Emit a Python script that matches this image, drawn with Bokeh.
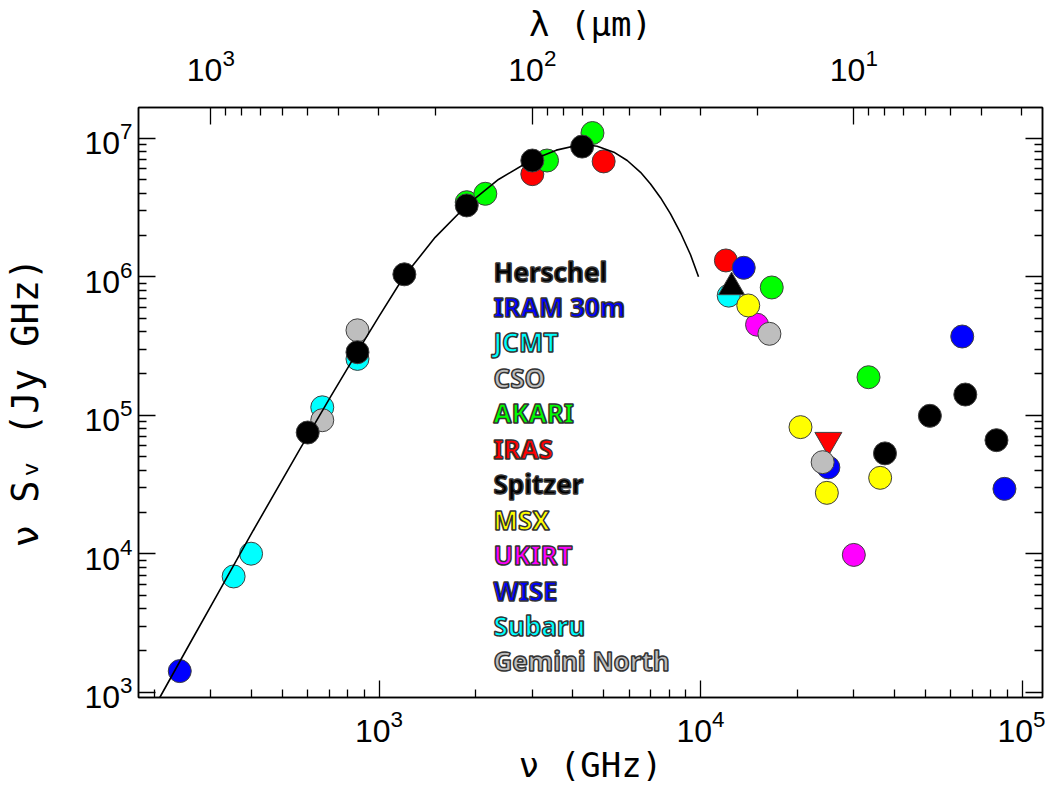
from bokeh.plotting import figure
from bokeh.models import (Range1d, LogAxis, FixedTicker, LogTickFormatter,
                          CustomJSTickFormatter, Label, LogScale)
from bokeh.embed import file_html
from bokeh.resources import INLINE

# ---------------- data ----------------
# model curve nu*S_nu (GHz, Jy GHz)
curve_nu = [208.0, 261.1, 316.2, 406.2, 565.7, 707.9, 855.3, 1000, 1194,
            1495, 1872, 2353, 2960, 3561, 4285, 4772, 5375, 5916, 6508,
            6991, 7509, 8066, 8665, 9309, 9858]
curve_flux = [915.6, 2362, 5212, 1.471e4, 5.627e4, 1.366e5, 2.85e5, 5.176e5,
              9.984e5, 1.923e6, 3.267e6, 5.038e6, 6.902e6, 8.20e6, 9.036e6,
              8.75e6, 7.925e6, 6.901e6, 5.675e6, 4.677e6, 3.72e6, 2.844e6,
              2.076e6, 1.441e6, 1.0e6]

jcmt_nu = [353, 400, 666, 857]
jcmt_flux = [6.85e3, 1.0e4, 1.14e5, 2.55e5]
subaru_nu = [12236]
subaru_flux = [7.3e5]
iram_nu = [240]
iram_flux = [1.42e3]
iras_nu = [2998, 4997, 11992]
iras_flux = [5.5e6, 6.8e6, 1.31e6]
iras_lim_nu = [24983]
iras_lim_flux = [6.6e4]
akari_nu = [1874, 2141, 3331, 4612, 16655, 33310]
akari_flux = [3.45e6, 3.97e6, 6.9e6, 1.09e7, 8.36e5, 1.88e5]
cso_nu = [666, 857]
cso_flux = [9.2e4, 4.1e5]
ukirt_nu = [14990, 29979]
ukirt_flux = [4.5e5, 9.8e3]
msx_nu = [14075, 20463, 24715, 36207]
msx_flux = [6.2e5, 8.2e4, 2.75e4, 3.53e4]
wise_nu = [13627, 24983, 65172, 88174]
wise_flux = [1.16e6, 4.2e4, 3.7e5, 2.94e4]
gemini_nu = [16380, 23983]
gemini_flux = [3.87e5, 4.58e4]
spitzer_nu = [37474, 51688, 66621, 83275]
spitzer_flux = [5.3e4, 9.9e4, 1.41e5, 6.6e4]
spitzer_lim_nu = [12491]
spitzer_lim_flux = [8.4e5]
herschel_nu = [600, 857, 1199, 1874, 2998, 4283]
herschel_flux = [7.5e4, 2.85e5, 1.04e6, 3.27e6, 6.9e6, 8.7e6]

legend_names = ["Herschel", "IRAM 30m", "JCMT", "CSO", "AKARI", "IRAS", "Spitzer",
                "MSX", "UKIRT", "WISE", "Subaru", "Gemini North"]
legend_colors = ["#000000", "#0000FF", "#00FFFF", "#BEBEBE", "#00FF00", "#FF0000",
                 "#000000", "#FFFF00", "#FF00FF", "#0000FF", "#00FFFF", "#BEBEBE"]

x_major = [1e3, 1e4, 1e5]
y_major = [1e3, 1e4, 1e5, 1e6, 1e7]
lam_major = [10, 100, 1000]

# ---------------- figure ----------------
C_UM_GHZ = 299792.458
XMIN, XMAX = 178.6, 115800.0
YMIN, YMAX = 915.6, 1.666e7

p = figure(width=1045, height=795, x_axis_type="log", y_axis_type="log",
           x_range=Range1d(XMIN, XMAX), y_range=Range1d(YMIN, YMAX),
           output_backend="svg", toolbar_location=None,
           min_border_left=138, min_border_right=3, min_border_top=107,
           min_border_bottom=98)
p.grid.visible = False
p.outline_line_color = "black"
p.outline_line_width = 1.5
p.background_fill_color = "white"
p.border_fill_color = "white"
p.extra_x_ranges = {"lam": Range1d(C_UM_GHZ / XMIN, C_UM_GHZ / XMAX)}
p.extra_x_scales = {"lam": LogScale()}


def minors(lo, hi):
    return [m * 10.0 ** e for e in range(lo, hi) for m in range(2, 10)]


TICK_FONT = "Liberation Sans"
TITLE_FONT = "DejaVu Sans Mono"


def style(ax, show_labels=True):
    ax.major_tick_in = 17
    ax.major_tick_out = 0
    ax.minor_tick_in = 8
    ax.minor_tick_out = 0
    ax.axis_line_width = 1.5
    ax.axis_line_color = "black"
    ax.major_tick_line_color = "black"
    ax.minor_tick_line_color = "black"
    ax.major_tick_line_width = 1.3
    ax.minor_tick_line_width = 1.3
    ax.major_label_text_font = TICK_FONT
    ax.major_label_text_color = "black"
    ax.axis_label_text_font = TITLE_FONT
    ax.axis_label_text_font_style = "normal"
    ax.axis_label_text_color = "black"
    ax.axis_label_text_font_size = "34px"
    if show_labels:
        ax.major_label_text_font_size = "32px"
        ax.formatter = LogTickFormatter()
    else:
        ax.major_label_text_font_size = "0px"
        ax.major_label_standoff = 0
        ax.formatter = CustomJSTickFormatter(code="return ''")


bx = p.below[0]
bx.ticker = FixedTicker(ticks=x_major, minor_ticks=minors(2, 5))
style(bx)
bx.major_label_standoff = 12
bx.axis_label = "ν (GHz)"
bx.axis_label_standoff = 0

ly = p.left[0]
ly.ticker = FixedTicker(ticks=y_major, minor_ticks=minors(2, 7))
style(ly)
ly.major_label_standoff = 6
ly.axis_label = "ν S\u1d65 (Jy GHz)"
ly.axis_label_text_font_size = "37px"
ly.axis_label_standoff = 34

ry = LogAxis(ticker=FixedTicker(ticks=y_major, minor_ticks=minors(2, 7)))
style(ry, False)
p.add_layout(ry, "right")

tx = LogAxis(x_range_name="lam",
             ticker=FixedTicker(ticks=lam_major, minor_ticks=minors(0, 4)))
style(tx)
tx.major_label_standoff = 27
tx.axis_label = "λ (μm)"
tx.axis_label_standoff = 2
p.add_layout(tx, "above")

# ---------------- markers ----------------
OUT = "#404040"
layers = [
    (jcmt_nu, jcmt_flux, "circle", "#00FFFF", 23),
    (subaru_nu, subaru_flux, "circle", "#00FFFF", 23),
    (iram_nu, iram_flux, "circle", "#0000FF", 23),
    (iras_nu, iras_flux, "circle", "#FF0000", 23),
    (iras_lim_nu, iras_lim_flux, "inverted_triangle", "#FF0000", 27),
    (akari_nu, akari_flux, "circle", "#00FF00", 23),
    (cso_nu, cso_flux, "circle", "#BEBEBE", 23),
    (ukirt_nu, ukirt_flux, "circle", "#FF00FF", 23),
    (msx_nu, msx_flux, "circle", "#FFFF00", 23),
    (wise_nu, wise_flux, "circle", "#0000FF", 23),
    (gemini_nu, gemini_flux, "circle", "#BEBEBE", 23),
    (spitzer_nu, spitzer_flux, "circle", "#000000", 23),
    (spitzer_lim_nu, spitzer_lim_flux, "triangle", "#000000", 26),
    (herschel_nu, herschel_flux, "circle", "#000000", 23),
]
for xs, ys, mk, col, sz in layers:
    p.scatter(xs, ys, marker=mk, size=sz, fill_color=col, line_color=OUT,
              line_width=1)

p.line(curve_nu, curve_flux, line_color="black", line_width=1.6)

# ---------------- legend text (screen units inside the frame) ----------------
FRAME_LEFT_PX, FRAME_BOTTOM_PX = 138, 697
for i, (name, col) in enumerate(zip(legend_names, legend_colors)):
    p.add_layout(Label(x=493 - FRAME_LEFT_PX, y=FRAME_BOTTOM_PX - (271 + 35.45 * i),
                       x_units="screen", y_units="screen", text=name,
                       text_color=col, text_outline_color="#333333",
                       text_font="Noto Sans", text_font_style="bold",
                       text_font_size="26px", text_align="left",
                       text_baseline="middle"))

open("out.html", "w").write(file_html(p, INLINE))
